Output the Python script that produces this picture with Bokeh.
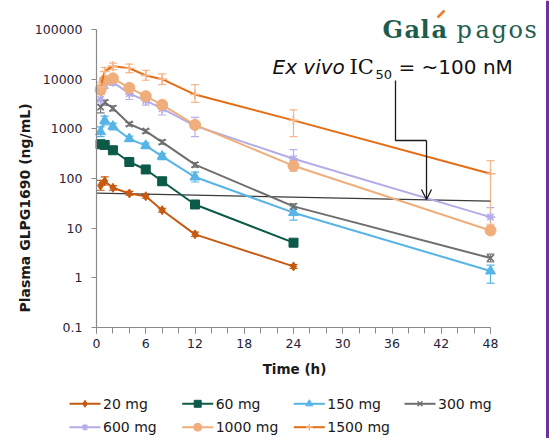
import math
from bokeh.plotting import figure
from bokeh.models import (Range1d, FixedTicker, CustomJSTickFormatter, ColumnDataSource,
                          Whisker, TeeHead, Label, Arrow, OpenHead)
from bokeh.core.properties import value
from bokeh.embed import file_html
from bokeh.resources import INLINE

# ---------------- data ----------------
time_short = [0.5, 1, 2, 4, 6, 8, 12, 24]
time_full = [0.5, 1, 2, 4, 6, 8, 12, 24, 48]

doses = ["20 mg", "60 mg", "150 mg", "300 mg", "600 mg", "1000 mg", "1500 mg"]

c20 = [72, 88, 65, 50, 44, 23, 7.5, 1.7]
c60 = [490, 475, 370, 215, 152, 88, 30, 5.1]
c150 = [870, 1470, 1120, 630, 460, 280, 107, 20.5, 1.37]
c300 = [2750, 3400, 2600, 1250, 900, 540, 190, 27.5, 2.5]
c600 = [3900, 7800, 8700, 5100, 3700, 2550, 1150, 250, 16.7]
c1000 = [6100, 9400, 10400, 6700, 4550, 3050, 1200, 180, 9.0]
c1500 = [7000, 14300, 18300, 16600, 11900, 10000, 4900, 1480, 125]

lo20 = [58, 74, 58, 46, 40, 21, 6.8, 1.55]
hi20 = [92, 108, 72, 55, 48, 25, 8.3, 1.85]
lo60 = [460, 445, 345, 200, 142, 82, 28, 4.8]
hi60 = [520, 505, 395, 230, 162, 94, 32, 5.4]
lo150 = [700, 1200, 950, 560, 400, 240, 85, 14.5, 0.78]
hi150 = [1100, 1800, 1300, 710, 520, 320, 135, 27, 1.8]
lo300 = [2100, 3000, 2300, 1150, 820, 490, 170, 24, 2.1]
hi300 = [3800, 3800, 2900, 1350, 980, 590, 210, 31, 3.0]
lo600 = [3000, 6500, 7500, 3900, 3000, 1900, 700, 150, 8]
hi600 = [5000, 9000, 10000, 6500, 4500, 3300, 1700, 380, 26]
lo1000 = [5000, 8500, 9500, 6000, 4200, 2800, 1050, 140, 7.5]
hi1000 = [7500, 10500, 11500, 7500, 5000, 3400, 1400, 230, 11]
lo1500 = [5500, 11000, 15500, 13500, 9500, 7800, 3400, 700, 12]
hi1500 = [8500, 17000, 21000, 20000, 15000, 12800, 7800, 2400, 230]

ic50_x = [0, 48]
ic50_y = [50.8, 35]

x_ticks = [0, 6, 12, 18, 24, 30, 36, 42, 48]
x_minor = list(range(0, 49, 2))
y_ticks = [0.1, 1, 10, 100, 1000, 10000, 100000]

# ---------------- layout helpers (pixel -> data) ----------------
W, H = 549, 438
AX_LEFT, AX_TOP, AX_BOTTOM = 96, 29, 327
KX = 394 / 48.0          # px per hour
KY = 298 / 6.0           # px per decade


def hx(px):
    return (px - AX_LEFT) / KX


def vy(py):
    return 10 ** (5 - (py - AX_TOP) / KY)


series = [
    (time_short, c20, lo20, hi20, "#c55a11", "#c55a11", "diamond", 9),
    (time_short, c60, lo60, hi60, "#0c5a48", "#0c5a48", "square", 9),
    (time_full, c150, lo150, hi150, "#56b4e6", "#56b4e6", "triangle", 10),
    (time_full, c300, lo300, hi300, "#6e6e6e", "#7a7a7a", "x", 9),
    (time_full, c600, lo600, hi600, "#b5abe6", "#b9b0ee", "asterisk", 9),
    (time_full, c1000, lo1000, hi1000, "#efae7b", "#efae7b", "circle", 11),
    (time_full, c1500, lo1500, hi1500, "#e46c12", "#f6b68a", "cross", 10),
]

FONT = "DejaVu Sans"
TXT = "#1a1a1a"

p = figure(output_backend="svg", toolbar_location=None,
           y_axis_type="log",
           frame_width=W, frame_height=H,
           min_border_left=0, min_border_top=0, min_border_right=0, min_border_bottom=0,
           x_range=Range1d(hx(0), hx(W)), y_range=Range1d(vy(H), vy(0)),
           background_fill_color="white", border_fill_color="white")
p.outline_line_color = None
p.grid.grid_line_color = None

for ax in (p.xaxis[0], p.yaxis[0]):
    ax.axis_line_color = "#8a8a8a"
    ax.axis_line_width = 1.2
    ax.major_tick_line_color = "#8a8a8a"
    ax.minor_tick_line_color = "#8a8a8a"
    ax.major_tick_in = 0
    ax.minor_tick_in = 0
    ax.major_label_text_font = FONT
    ax.major_label_text_font_size = "12.5px"
    ax.major_label_text_color = "#22223a"

p.xaxis.fixed_location = 0.1
p.xaxis.bounds = (0, 48)
p.xaxis.ticker = FixedTicker(ticks=x_ticks, minor_ticks=x_minor)
p.xaxis.major_tick_out = 6
p.xaxis.minor_tick_out = 6
p.xaxis.major_label_standoff = 5

p.yaxis.fixed_location = 0
p.yaxis.bounds = (0.1, 100000)
p.yaxis.ticker = FixedTicker(ticks=y_ticks, minor_ticks=[])
p.yaxis.formatter = CustomJSTickFormatter(code="return tick < 1 ? tick.toFixed(1) : tick.toFixed(0);")
p.yaxis.major_tick_out = 5
p.yaxis.minor_tick_out = 0
p.yaxis.major_label_standoff = 9

# axis titles
p.add_layout(Label(x=hx(24), y=vy(207.5), text="Plasma GLPG1690 (ng/mL)", angle=math.pi / 2,
                   text_align="center", text_baseline="middle", text_font=FONT,
                   text_font_style="bold", text_font_size="14px", text_color=TXT))
p.add_layout(Label(x=hx(294), y=vy(368), text="Time (h)",
                   text_align="center", text_baseline="middle", text_font=FONT,
                   text_font_style="bold", text_font_size="13.5px", text_color=TXT))

# IC50 reference line
p.line(ic50_x, ic50_y, line_color="#3a3a3a", line_width=1.3)

for (t, c, lo, hi, col, ecol, mk, sz) in series:
    src = ColumnDataSource(dict(x=t, y=c, lo=lo, hi=hi))
    w = Whisker(base="x", upper="hi", lower="lo", source=src,
                line_color=ecol, line_width=1.2,
                upper_head=TeeHead(size=8, line_color=ecol, line_width=1.2),
                lower_head=TeeHead(size=8, line_color=ecol, line_width=1.2))
    p.add_layout(w)
    p.line("x", "y", source=src, line_color=col, line_width=2)
    if mk in ("x", "asterisk", "cross"):
        p.scatter("x", "y", source=src, marker=mk, size=sz,
                  line_color=ecol if mk == "cross" else col, line_width=1.6, fill_color=None)
    else:
        p.scatter("x", "y", source=src, marker=mk, size=sz,
                  line_color=col, fill_color=col)

# legend (drawn manually below the axis)
leg_cols = [69, 181.7, 293.3, 404]
leg_rows = [403.3, 426.7]
for i, ((t, c, lo, hi, col, ecol, mk, sz), name) in enumerate(zip(series, doses)):
    x0 = leg_cols[i % 4]
    yy = leg_rows[i // 4]
    p.line([hx(x0), hx(x0 + 31)], [vy(yy), vy(yy)], line_color=col, line_width=2)
    if mk in ("x", "asterisk", "cross"):
        p.scatter([hx(x0 + 15.5)], [vy(yy)], marker=mk, size=7,
                  line_color=ecol if mk == "cross" else col, line_width=1.4, fill_color=None)
    else:
        p.scatter([hx(x0 + 15.5)], [vy(yy)], marker=mk, size=7 if mk != "circle" else 8,
                  line_color=col, fill_color=col)
    p.text([hx(x0 + 33.5)], [vy(yy)], text=[name], text_font=value(FONT), text_font_size="14px",
           text_color=TXT, text_baseline="middle", text_align="left")

# annotation: arrow and text
p.line([hx(395), hx(395), hx(426)], [vy(80), vy(140), vy(140)], line_color="#1a1a1a", line_width=1.3)
p.add_layout(Arrow(x_start=hx(426), y_start=vy(140), x_end=hx(426), y_end=vy(199),
                   line_color="#1a1a1a", line_width=1.3,
                   end=OpenHead(size=10, line_color="#1a1a1a", line_width=1.3)))

p.add_layout(Label(x=hx(272), y=vy(66.7), text="Ex vivo", text_font=FONT, text_font_style="italic",
                   text_font_size="20px", text_color="#111111", text_baseline="alphabetic"))
p.add_layout(Label(x=hx(349), y=vy(66.7), text="IC", text_font="DejaVu Serif",
                   text_font_size="21px", text_color="#111111", text_baseline="alphabetic"))
p.add_layout(Label(x=hx(375), y=vy(74), text="50", text_font=FONT,
                   text_font_size="13px", text_color="#111111", text_baseline="alphabetic"))
p.add_layout(Label(x=hx(398), y=vy(66.7), text="= ~100 nM", text_font=FONT,
                   text_font_size="20px", text_color="#111111", text_baseline="alphabetic"))

# logo (letter by letter, for its wide spacing)
logo_bold = [("G", 382), ("a", 404), ("l", 420), ("a", 431)]
logo_reg = [("p", 456), ("a", 475), ("g", 491), ("o", 508), ("s", 524)]
for ch, px in logo_bold:
    p.add_layout(Label(x=hx(px), y=vy(29), text=ch, text_font="DejaVu Serif", text_font_style="bold",
                       text_font_size="24px", text_color="#1d5c4b", text_baseline="alphabetic"))
for ch, px in logo_reg:
    p.add_layout(Label(x=hx(px), y=vy(29), text=ch, text_font="DejaVu Serif",
                       text_font_size="24px", text_color="#245f51", text_baseline="alphabetic"))
p.line([hx(437), hx(444)], [vy(17), vy(10)], line_color="#ee7d2e", line_width=2.5)

# purple slide edge
p.quad(left=[hx(545.5)], right=[hx(549)], bottom=[vy(H)], top=[vy(0)],
       fill_color="#7030a0", line_color=None)

open("out.html", "w").write(file_html(p, INLINE))
